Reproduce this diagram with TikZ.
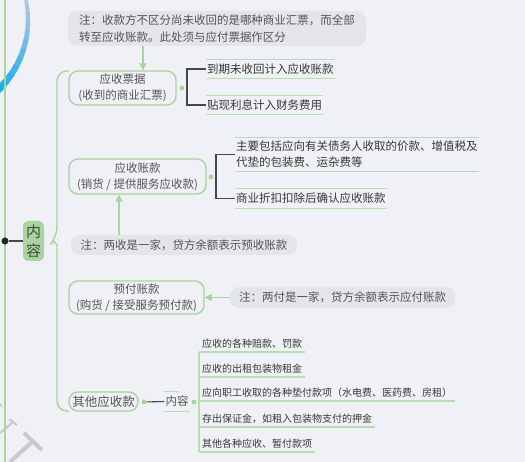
\documentclass[tikz,border=0pt]{standalone}
\usepackage{fontspec}
\setmainfont{Noto Sans CJK SC}
\usetikzlibrary{arrows.meta,calc}
\definecolor{bg}{HTML}{F0F1F6}
\definecolor{gline}{HTML}{A6D69D}
\definecolor{iline}{HTML}{B6DEAE}
\definecolor{notefill}{HTML}{E4E5E9}
\definecolor{txt}{HTML}{555555}
\definecolor{itxt}{HTML}{383838}
\definecolor{dk}{HTML}{474747}
\definecolor{nrfill}{HTML}{A8D59F}
\definecolor{arcA}{HTML}{10AEEB}
\definecolor{arcB}{HTML}{BCC8DE}
\definecolor{tgray}{HTML}{C9C9CC}
\tikzset{
  gbox/.style={draw=gline, line width=1.4pt, rounded corners=9pt, fill=bg, text=txt,
    align=center, inner sep=0pt, font=\fontsize{11.5}{16}\selectfont},
  notebox/.style={fill=notefill, rounded corners=9pt, text=txt, align=left,
    inner sep=0pt, font=\fontsize{11.5}{17}\selectfont},
  arr/.style={draw=gline, line width=1.4pt, -{Triangle[length=7pt,width=7pt]}},
  gdot/.style={circle, fill=gline, inner sep=0pt, minimum size=5pt},
  brk/.style={draw=dk, line width=1.1pt},
  item/.style={text=itxt, inner xsep=1pt, inner ysep=0pt, anchor=west,
    font=\fontsize{11.5}{16}\selectfont, align=left},
  iline/.style={draw=iline, line width=1.2pt},
  sub/.style={text=itxt, inner xsep=3pt, inner ysep=3pt, anchor=south west,
    text height=8.8pt, text depth=1.2pt, font=\fontsize{10}{12}\selectfont},
  glw/.style={draw=gline, line width=1.4pt},
}
\begin{document}
\begin{tikzpicture}[x=1pt,y=-1pt]
\useasboundingbox[fill=bg] (0,0) rectangle (525,462);
% background decorations
\begin{scope}
\clip (0,0) rectangle (525,462);
\foreach \i in {0,...,11}{
  \pgfmathsetmacro{\p}{\i*9}
  \pgfmathsetmacro{\w}{3.5+\i*0.33}
  \pgfmathsetmacro{\a}{-16+\i*5.5}
  \pgfmathsetmacro{\b}{\a+6}
  \draw[color=arcA!\p!arcB, line width=\w pt]
    plot[domain=\a:\b, samples=6] ({-68.6+96.6*cos(\x)},{20+96.6*sin(\x)});
}
\draw[tgray, line width=2pt] (9,419) -- (17,425);
\draw[tgray, line width=2pt] (13,422) -- (0,433);
\draw[tgray, line width=4pt] (24,433) -- (42,450);
\draw[tgray, line width=4pt] (33,441) -- (10,462);
\draw[tgray, line width=1.5pt] (0,404) -- (2,407);
\end{scope}
% left spine
\coordinate (top) at (5,0);
\coordinate (bot) at (5,462);
\draw[glw] (top) -- (bot);
\node[circle, fill=black!85, inner sep=0pt, minimum size=7pt] (root) at (5,241) {};
\node[fill=nrfill, rounded corners=5pt, inner sep=0pt, minimum width=21pt, minimum height=40pt,
  text=dk, align=center, font=\fontsize{15}{19}\selectfont] (nr) at (33.5,241) {内\\容};
\draw[brk] (root) -- (nr.west);
% brace
\draw[glw] (69,71) [rounded corners=10pt] -- (57,71) -- (57,237) [sharp corners] -- (53.5,241) -- (57,245) [rounded corners=10pt] -- (57,411) -- (69,411);
% main boxes
\node[gbox, minimum width=107pt, minimum height=34pt] (sp) at (122.5,88) {应收票据\\(收到的商业汇票)};
\node[gbox, minimum width=137pt, minimum height=35pt] (zk) at (137.5,176.5) {应收账款\\(销货 / 提供服务应收款)};
\node[gbox, minimum width=135pt, minimum height=33pt] (yf) at (136.5,297.5) {预付账款\\(购货 / 接受服务预付款)};
\node[gbox, minimum width=69pt, minimum height=19pt, font=\fontsize{12.5}{15}\selectfont] (qt) at (103.5,401.5) {其他应收款};
% notes
\node[notebox, minimum width=298pt, minimum height=35pt] (n1) at (217,28.5) {注：收款方不区分尚未收回的是哪种商业汇票，而全部\\转至应收账款。此处须与应付票据作区分};
\node[notebox, minimum width=226pt, minimum height=20pt] (n2) at (184,245) {注：两收是一家，贷方余额表示预收账款};
\node[notebox, minimum width=225pt, minimum height=21pt] (n3) at (342.5,297.5) {注：两付是一家，贷方余额表示应付账款};
\coordinate (ax1) at (143,0);
\coordinate (ax2) at (119,0);
\draw[arr] (n1.south -| ax1) -- (sp.north -| ax1);
\draw[arr] (n2.north -| ax2) -- (zk.south -| ax2);
\draw[arr] (n3.west) -- (yf.east |- n3.west);
% 应收票据 items
\node[gdot] (d1) at (182,88) {};
\node[item, minimum height=18pt, text height=10.1pt, text depth=1.4pt] (i1) at (206,69) {到期未收回计入应收账款};
\node[item, minimum height=18pt, text height=10.1pt, text depth=1.4pt] (i2) at (206,105) {贴现利息计入财务费用};
\foreach \n in {i1,i2}{
  \draw[iline] (\n.north west) -- (\n.north east);
  \draw[iline] (\n.south west) -- (\n.south east);
}
\coordinate (b1) at (187,88);
\draw[brk] (i1.west) -| (b1) |- (i2.west);
% 应收账款 items
\node[gdot] (d2) at (211,177) {};
\node[item, minimum height=33pt] (i3) at (235,154.5) {主要包括应向有关债务人收取的价款、增值税及\\代垫的包装费、运杂费等};
\node[item, minimum height=19pt, text height=10.1pt, text depth=1.4pt] (i4) at (235,198.5) {商业折扣扣除后确认应收账款};
\foreach \n in {i3,i4}{
  \draw[iline] (\n.north west) -- (\n.north east);
  \draw[iline] (\n.south west) -- (\n.south east);
}
\coordinate (b2) at (216,177);
\draw[brk] (i3.west) -| (b2) |- (i4.west);
% 其他应收款
\node[gdot] (d3) at (144,402) {};
\node[text=txt, inner xsep=1pt, inner ysep=0pt, minimum height=19pt, text height=10pt, text depth=1.4pt,
  font=\fontsize{11.5}{14}\selectfont] (nr2) at (177,401.5) {内容};
\draw[brk] (d3) -- (nr2.west);
\draw[iline] (nr2.north west) -- ++(15,0);
\draw[iline] (nr2.south west) -- (nr2.south east);
\node[gdot] (d4) at (194,402) {};
\node[sub] (q1) at (199,352) {应收的各种赔款、罚款};
\node[sub] (q2) at (199,377) {应收的出租包装物租金};
\node[sub] (q3) at (199,401) {应向职工收取的各种垫付款项（水电费、医药费、房租）};
\node[sub] (q4) at (199,427) {存出保证金，如租入包装物支付的押金};
\node[sub] (q5) at (199,452) {其他各种应收、暂付款项};
\foreach \n in {q1,q2,q3,q4,q5}{
  \draw[iline] (\n.south west) -- (\n.south east);
}
\draw[iline] (q1.south west) -- (q5.south west);
\end{tikzpicture}
\end{document}
